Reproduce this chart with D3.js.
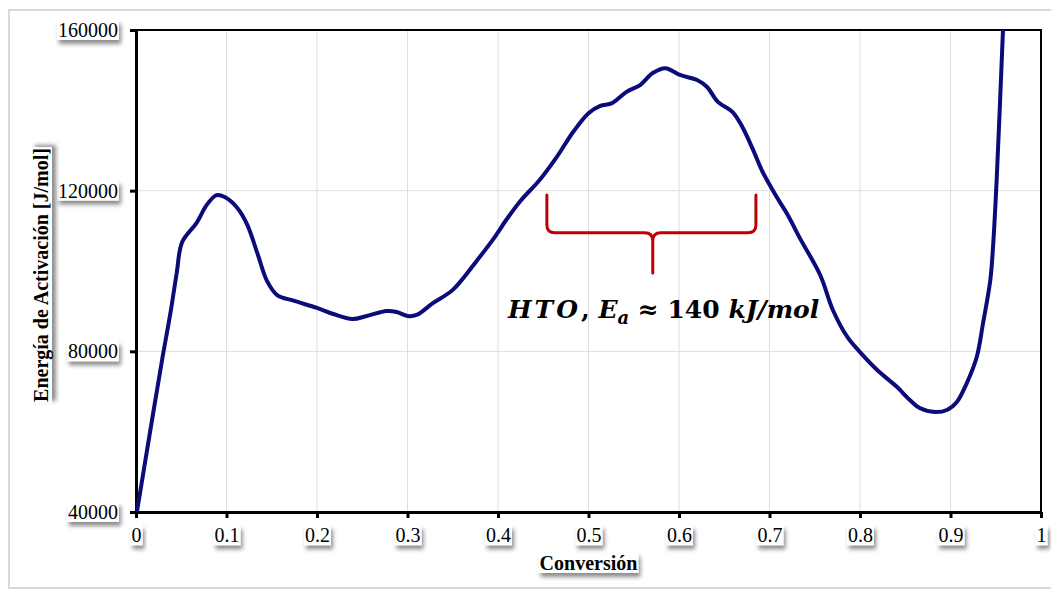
<!DOCTYPE html>
<html>
<head>
<meta charset="utf-8">
<script src="https://cdn.jsdelivr.net/npm/d3@7"></script>
<style>
body{margin:0;background:#fff;}
svg{font-family:"Liberation Serif","Times New Roman",serif;}
</style>
</head>
<body>
<div id="chart"></div>
<script>
// values
const conversion = [0.001,0.015,0.029,0.038,0.045,0.051,0.067,0.078,0.089,0.098,0.112,0.123,0.134,0.145,0.156,0.174,
    0.2,0.218,0.239,0.255,0.277,0.288,0.3,0.31,0.328,0.35,0.377,0.395,0.41,0.425,0.446,0.465,0.483,
    0.5,0.513,0.526,0.542,0.557,0.571,0.585,0.601,0.62,0.631,0.643,0.659,0.67,0.682,0.693,0.708,0.72,0.734,
    0.756,0.77,0.786,0.8,0.819,0.841,0.855,0.866,0.883,0.896,0.907,0.918,0.929,0.936,0.944,0.947,0.951,0.958];
const activation = [40000,59200,78100,89500,99500,107200,112000,116400,118900,118400,115700,111500,104500,97400,94000,92600,
    90800,89300,88050,88800,90050,89800,88800,89050,92000,95300,102700,108000,113000,117500,122650,128400,134600,
    139300,141100,141800,144600,146300,149300,150500,148800,147550,145800,142100,139600,135850,130100,124400,118400,114000,108000,
    99000,90300,83570,79800,75350,71100,67900,65900,64900,65400,67400,72100,78600,87050,97760,106000,122650,160000];

const xTicks = [0,0.1,0.2,0.3,0.4,0.5,0.6,0.7,0.8,0.9,1];
const yTicks = [40000,80000,120000,160000];
const xTickLabels = ["0","0.1","0.2","0.3","0.4","0.5","0.6","0.7","0.8","0.9","1"];

// brace annotation (data units): left, middle, right / top, bar, tip
const braceX = [0.454,0.571,0.685];
const braceY = [118900,109500,99500];
const labelPos = [0.411,88400];

const W = 1051, H = 591;
const margin = {top: 30, right: 10, bottom: 79, left: 136};
const plotW = 905, plotH = 482;

const svg = d3.select("#chart").append("svg").attr("width",W).attr("height",H);

const defs = svg.append("defs");
const shadow = defs.append("filter").attr("id","shadow")
    .attr("x","-20%").attr("y","-30%").attr("width","150%").attr("height","190%");
shadow.append("feDropShadow").attr("dx",2).attr("dy",4).attr("stdDeviation",2)
    .attr("flood-color","#000").attr("flood-opacity",0.45);
defs.append("clipPath").attr("id","plotclip").append("rect")
    .attr("x",margin.left).attr("y",margin.top).attr("width",plotW).attr("height",plotH);

// outer frame
svg.append("rect").attr("x",9).attr("y",10).attr("width",1060).attr("height",578)
    .attr("fill","#fff").attr("stroke","#d9d9d9").attr("stroke-width",2);

const xScale = d3.scaleLinear().domain([0,1]).range([margin.left, margin.left+plotW]);
const yScale = d3.scaleLinear().domain([40000,160000]).range([margin.top+plotH, margin.top]);

// grid
svg.append("g").selectAll("line").data(xTicks.slice(1,-1)).enter().append("line")
    .attr("x1",d=>xScale(d)).attr("x2",d=>xScale(d))
    .attr("y1",margin.top).attr("y2",margin.top+plotH)
    .attr("stroke","#dedede").attr("stroke-width",1);
svg.append("g").selectAll("line").data(yTicks.slice(1,-1)).enter().append("line")
    .attr("x1",margin.left).attr("x2",margin.left+plotW)
    .attr("y1",d=>yScale(d)).attr("y2",d=>yScale(d))
    .attr("stroke","#dedede").attr("stroke-width",1);

// plot border
svg.append("rect").attr("x",margin.left).attr("y",margin.top).attr("width",plotW).attr("height",plotH)
    .attr("fill","none").attr("stroke","#000").attr("stroke-width",2);

// axes
const xAxis = svg.append("g")
    .attr("transform",`translate(0,${margin.top+plotH})`)
    .call(d3.axisBottom(xScale).tickValues(xTicks).tickFormat((d,i)=>xTickLabels[i]).tickSize(6).tickSizeOuter(0).tickPadding(10));
const yAxis = svg.append("g")
    .attr("transform",`translate(${margin.left},0)`)
    .call(d3.axisLeft(yScale).tickValues(yTicks).tickFormat(d3.format("d")).tickSize(6).tickSizeOuter(0).tickPadding(12));

for (const ax of [xAxis,yAxis]){
    ax.select(".domain").attr("stroke","#000").attr("stroke-width",3);
    ax.selectAll(".tick line").attr("stroke","#000").attr("stroke-width",3);
    ax.selectAll(".tick text").attr("font-size",20).attr("fill","#000")
        .attr("font-family","'Liberation Serif','Times New Roman',serif");
}

// curve
const line = d3.line()
    .x((d,i)=>xScale(conversion[i]))
    .y(d=>yScale(d))
    .curve(d3.curveCatmullRom.alpha(0.5));
svg.append("path")
    .datum(activation)
    .attr("clip-path","url(#plotclip)")
    .attr("fill","none")
    .attr("stroke","#0b0b7a")
    .attr("stroke-width",4)
    .attr("stroke-linejoin","round")
    .attr("d",line);

// brace
const bl = xScale(braceX[0]), bm = xScale(braceX[1]), br = xScale(braceX[2]);
const bt = yScale(braceY[0]), bb = yScale(braceY[1]), bp = yScale(braceY[2]);
const r = 8;
const bracePath = d3.path();
bracePath.moveTo(bl,bt); bracePath.lineTo(bl,bb-r); bracePath.quadraticCurveTo(bl,bb,bl+r,bb);
bracePath.lineTo(bm-r,bb); bracePath.quadraticCurveTo(bm,bb,bm,bb+r); bracePath.lineTo(bm,bp);
bracePath.moveTo(br,bt); bracePath.lineTo(br,bb-r); bracePath.quadraticCurveTo(br,bb,br-r,bb);
bracePath.lineTo(bm+r,bb); bracePath.quadraticCurveTo(bm,bb,bm,bb+r);
svg.append("path").attr("d",bracePath.toString())
    .attr("fill","none").attr("stroke","#c00000").attr("stroke-width",3).attr("stroke-linecap","round");

// annotation
const ann = svg.append("text")
    .attr("x",xScale(labelPos[0])).attr("y",yScale(labelPos[1]))
    .attr("font-family","'DejaVu Serif','Liberation Serif',serif")
    .attr("font-size",25).attr("font-weight","bold").attr("fill","#000");
ann.append("tspan").attr("font-style","italic").attr("letter-spacing",3).text("HTO");
ann.append("tspan").text(", ");
ann.append("tspan").attr("font-style","italic").text("E");
ann.append("tspan").attr("font-style","italic").attr("font-size",18).attr("dy",6).text("a");
ann.append("tspan").attr("dy",-6).text(" ≈ 140 ");
ann.append("tspan").attr("font-style","italic").text("kJ/mol");

// axis titles
svg.append("text")
    .attr("x",xScale(0.5)).attr("y",570)
    .attr("text-anchor","middle").attr("font-size",20).attr("font-weight","bold")
    .attr("class","boxed").text("Conversión");
svg.append("text")
    .attr("transform",`translate(48,${yScale(99000)}) rotate(-90)`)
    .attr("text-anchor","middle").attr("font-size",20).attr("font-weight","bold")
    .attr("class","boxed").text("Energía de Activación [J/mol]");

// white boxes with shadow behind labels
function boxLabels(nodes){
    nodes.each(function(){
        const b = this.getBBox();
        d3.select(this.parentNode).insert("rect",()=>this)
            .attr("x",b.x-1).attr("y",b.y+1).attr("width",b.width+2).attr("height",b.height-2)
            .attr("transform",this.getAttribute("transform"))
            .attr("fill","#fff").attr("filter","url(#shadow)");
    });
}
boxLabels(xAxis.selectAll(".tick text"));
boxLabels(yAxis.selectAll(".tick text"));
boxLabels(svg.selectAll("text.boxed"));
</script>
</body>
</html>
